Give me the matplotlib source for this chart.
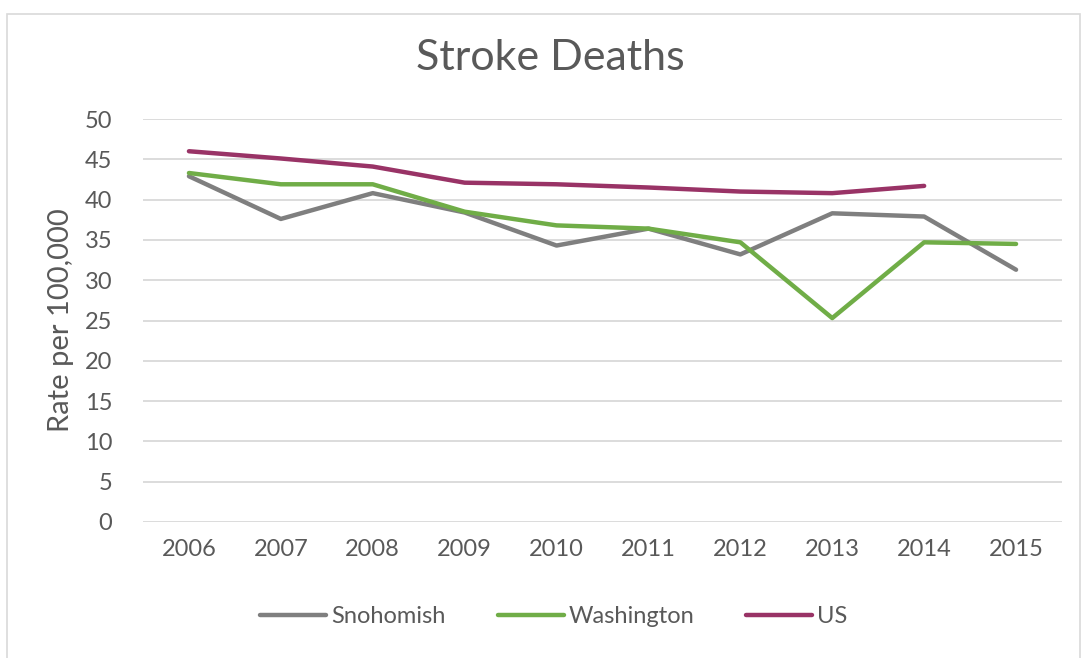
import matplotlib
matplotlib.use('Agg')
import matplotlib.pyplot as plt
from matplotlib.patches import Rectangle

years = ['2006', '2007', '2008', '2009', '2010', '2011', '2012', '2013', '2014', '2015']
snohomish = [42.9, 37.6, 40.8, 38.4, 34.3, 36.4, 33.2, 38.3, 37.9, 31.3]
washington = [43.3, 41.9, 41.9, 38.5, 36.8, 36.4, 34.7, 25.3, 34.7, 34.5]
us = [46.0, 45.1, 44.1, 42.1, 41.9, 41.5, 41.0, 40.8, 41.7, None]

txt = '#595959'
plt.rcParams['font.family'] = ['Lato', 'DejaVu Sans']

fig = plt.figure(figsize=(10.84, 6.58), dpi=100)
ax = fig.add_axes([143/1084, 1-522/658, (1062-143)/1084, (522-119)/658])

x = list(range(len(years)))
ax.plot(x, snohomish, color='#7f7f7f', lw=3.2, label='Snohomish', solid_capstyle='round')
ax.plot(x, washington, color='#70ad47', lw=3.2, label='Washington', solid_capstyle='round')
ax.plot(x[:9], us[:9], color='#993366', lw=3.2, label='US', solid_capstyle='round')

ax.set_xlim(-0.5, len(years) - 0.5)
ax.set_ylim(0, 50)
ax.set_yticks(range(0, 51, 5))
ax.set_xticks(x)
ax.set_xticklabels(years)
ax.grid(axis='y', color='#d9d9d9', lw=1.3)
ax.set_axisbelow(True)
for s in ax.spines.values():
    s.set_visible(False)
ax.tick_params(length=0, labelsize=17, colors=txt, pad=12)
ax.tick_params(axis='y', pad=22)
ax.set_ylabel('Rate per 100,000', fontsize=21, color=txt, labelpad=8)
fig.text(550/1084, 1-58/658, 'Stroke Deaths', ha='center', va='center', fontsize=31, color=txt)

ax.legend(loc='center', bbox_to_anchor=(0.447, -0.235), ncol=3, frameon=False,
          fontsize=17, labelcolor=txt, handlelength=2.8, handletextpad=0.2, columnspacing=2.2)

fig.patches.append(Rectangle((7/1084, -0.01), (1080-7)/1084, 1-14/658+0.01, transform=fig.transFigure,
                             fill=False, edgecolor='#d9d9d9', lw=1.2))
fig.savefig('out.png', dpi=100)
